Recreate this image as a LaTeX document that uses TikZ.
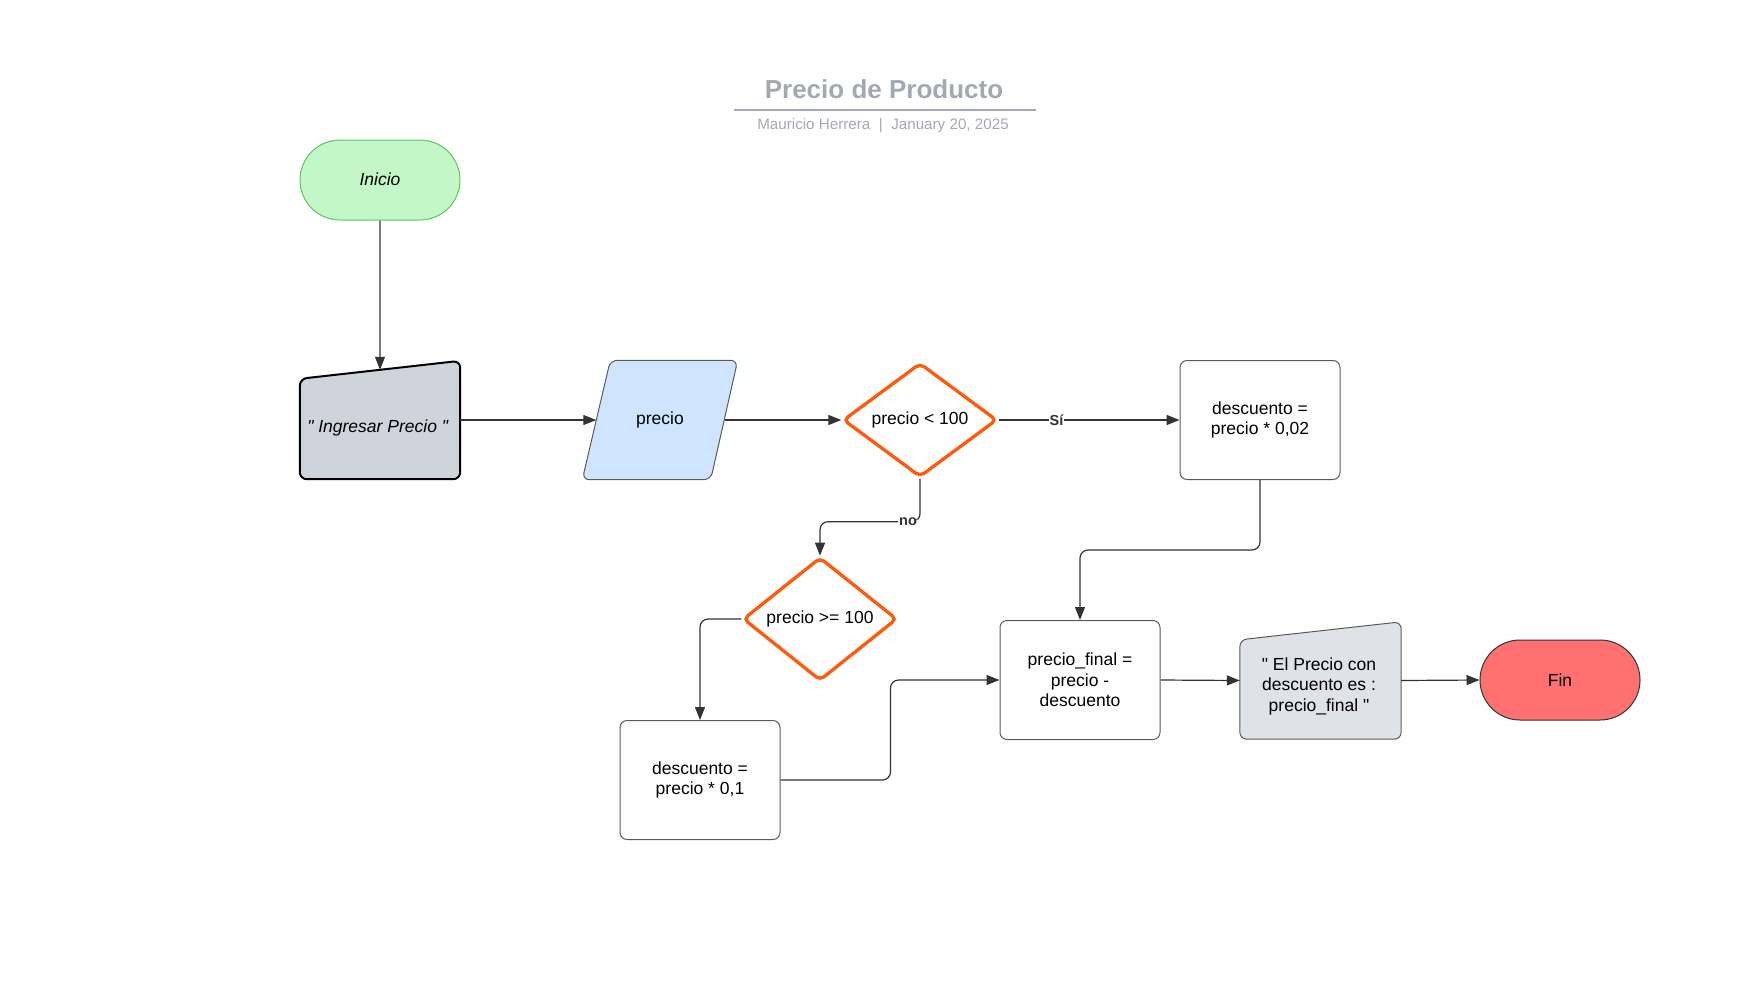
\documentclass[tikz,border=0pt]{standalone}
\usepackage{fontspec}
\setmainfont{Liberation Sans}
\usetikzlibrary{shapes.geometric,shapes.misc,arrows.meta,calc}
\definecolor{conn}{HTML}{333333}
\definecolor{boxline}{HTML}{5A5A5A}
\definecolor{orangeline}{HTML}{FF5A0A}
\definecolor{inifill}{HTML}{C3F7C8}
\definecolor{iniline}{HTML}{5CC466}
\definecolor{ingfill}{HTML}{CED4DB}
\definecolor{prefill}{HTML}{CFE4FF}
\definecolor{dispfill}{HTML}{DFE2E7}
\definecolor{finfill}{HTML}{FF7070}
\definecolor{titlegray}{HTML}{A3A9B2}
\tikzset{
  txt/.style={font=\fontsize{17.5}{20.5}\selectfont, text=black, align=center},
  procbox/.style={txt, draw=boxline, line width=1pt, rounded corners=7, fill=white, minimum width=160, minimum height=119, inner sep=0},
  termbox/.style={txt, rounded rectangle, minimum width=160, minimum height=80, inner sep=0, line width=1pt},
  decbox/.style={txt, diamond, draw=orangeline, line width=3.3pt, rounded corners=5, fill=white, minimum width=154, minimum height=114, inner sep=0},
  frame/.style={minimum width=160, minimum height=118, inner sep=0},
  cn/.style={draw=conn, line width=1.2pt, -{Triangle[length=13,width=10]}},
  lbl/.style={font=\fontsize{14.5}{16}\selectfont\bfseries, text=conn, fill=white, inner sep=1pt}
}
\begin{document}
\begin{tikzpicture}[x=1pt,y=-1pt]
\useasboundingbox (0,0) rectangle (1760,988);
% title
\node[font=\fontsize{26}{30}\selectfont\bfseries, text=titlegray] (title) at (884,89) {Precio de Producto};
\coordinate (tl) at (734,110);
\coordinate (tr) at (1036,110);
\draw[titlegray, line width=1.6pt] (tl) -- (tr);
\node[font=\fontsize{15.2}{17}\selectfont, text=titlegray] (sub) at (883,126) {Mauricio Herrera\ \ |\ \ January 20, 2025};

% Inicio
\node[termbox, draw=iniline, fill=inifill] (ini) at (380,180) {\raisebox{1pt}{\textit{Inicio}}};

% Ingresar Precio (manual input)
\node[frame] (ing) at (380,420) {};
\draw[draw=black, fill=ingfill, line width=2pt, rounded corners=7]
  ($(ing.north west)+(0,18)$) -- (ing.north east) -- (ing.south east) -- (ing.south west) -- cycle;
\node[txt] (ingt) at ($(ing.center)+(-2,8)$) {\textit{\textquotedbl{} Ingresar Precio \textquotedbl}};
\coordinate (ingtop) at ($($(ing.north west)+(0,18)$)!0.5!(ing.north east)$);

% precio (data)
\node[minimum width=155, minimum height=119, inner sep=0] (pre) at (660,420) {};
\draw[draw=boxline, fill=prefill, line width=1pt, rounded corners=7]
  ($(pre.north west)+(28,0)$) -- (pre.north east) -- ($(pre.south east)+(-27,0)$) -- (pre.south west) -- cycle;
\node[txt] (pret) at (pre.center) {precio};
\coordinate (prein) at ($(pre.west)+(14,0)$);
\coordinate (preout) at ($(pre.east)+(-13,0)$);

% decisions
\node[decbox] (d1) at (920,420) {precio < 100};
\node[decbox] (d2) at (820,619) {precio >= 100};

% process boxes
\node[procbox] (b1) at (1260,420) {descuento =\\precio * 0,02};
\node[procbox] (b2) at (700,780) {descuento =\\precio * 0,1};
\node[procbox] (pf) at (1080,680) {precio\_final =\\precio -\\descuento};

% display output
\node[minimum width=161, minimum height=117, inner sep=0] (disp) at (1320.5,680.5) {};
\draw[draw=boxline, fill=dispfill, line width=1pt, rounded corners=7]
  ($(disp.north west)+(0,18)$) -- (disp.north east) -- (disp.south east) -- (disp.south west) -- cycle;
\node[txt] (dispt) at (1319,686) {\textquotedbl{} El Precio con\\descuento es :\\precio\_final \textquotedbl};

% Fin
\node[termbox, draw=conn, fill=finfill] (fin) at (1560,680) {Fin};

% connectors
\draw[cn] (ini.south) -- (ingtop);
\draw[cn] (ing.east) -- (prein);
\draw[cn] (preout) -- (d1.west);
\draw[cn, line width=1.8pt] (d1.east) -- node[lbl, pos=0.32] {Sí} (b1.west);
\draw[cn, rounded corners=8] (d1.south) -- ++(0,43) -| node[lbl, pos=0.06] {no} (d2.north);
\draw[cn, rounded corners=8] (d2.west) -| (b2.north);
\draw[cn, rounded corners=8] (b2.east) -- ++(110,0) |- (pf.west);
\draw[cn, rounded corners=8] (b1.south) -- ++(0,70) -| (pf.north);
\draw[cn] (pf.east) -- (disp.west);
\draw[cn] (disp.east) -- (fin.west);
\end{tikzpicture}
\end{document}
